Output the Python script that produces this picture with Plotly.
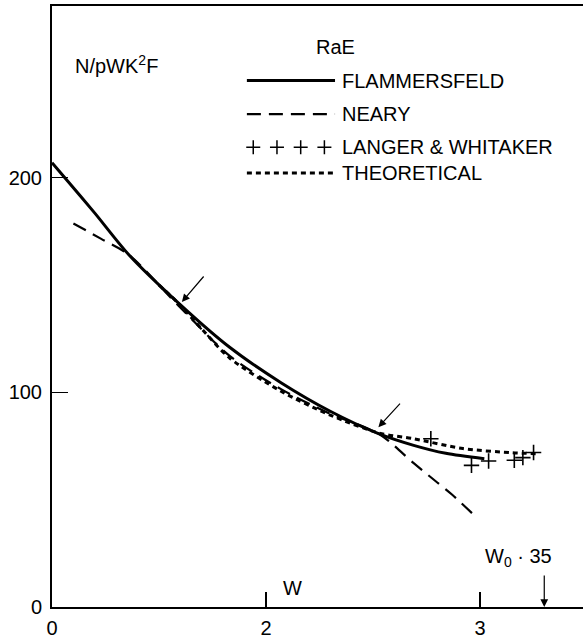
import plotly.graph_objects as go

# RaE beta spectrum: N / pWK^2F against total energy W
flam_w = [1.00, 1.06, 1.20, 1.36, 1.59, 1.83, 2.07, 2.30, 2.52, 2.69, 2.84, 3.02]
flam_v = [207, 200, 183.5, 164, 141.7, 121, 104.5, 91.2, 81, 75.3, 71.6, 69.1]

neary_w = [1.10, 1.23, 1.36, 1.59, 1.83, 2.07, 2.30, 2.53, 2.69, 2.80, 2.87, 2.97]
neary_v = [178.7, 171.5, 164, 140.5, 117, 101.5, 90, 80.5, 67, 58, 52.3, 43]

theo_w = [1.50, 1.59, 1.70, 1.83, 2.07, 2.30, 2.53, 2.69, 2.92, 3.15, 3.27]
theo_v = [150, 141.5, 129.5, 116, 100.5, 89.4, 81, 78.4, 73.8, 71.9, 71.4]

lw_w = [2.77, 2.96, 3.04, 3.16, 3.20, 3.25]
lw_v = [78.4, 66, 68, 68.4, 69.6, 72]

x_ticks = [1, 2, 3]
x_ticktext = ["0", "2", "3"]
y_ticks = [0, 100, 200]
w0 = 3.30

legend_rows = ["FLAMMERSFELD", "NEARY", "LANGER & WHITAKER", "THEORETICAL"]

FONT = "Liberation Sans, Arial, Helvetica, sans-serif"
INK = "black"
FS = 20

fig = go.Figure()

fig.add_trace(go.Scatter(x=flam_w, y=flam_v, mode="lines",
                         line=dict(color=INK, width=3, shape="spline", smoothing=0.8)))
fig.add_trace(go.Scatter(x=neary_w, y=neary_v, mode="lines",
                         line=dict(color=INK, width=2.2, dash="14px,8px", shape="spline", smoothing=0.8)))
fig.add_trace(go.Scatter(x=theo_w, y=theo_v, mode="lines",
                         line=dict(color=INK, width=3, dash="5px,4px", shape="spline", smoothing=0.8)))
fig.add_trace(go.Scatter(x=lw_w, y=lw_v, mode="markers",
                         marker=dict(symbol="cross-thin", size=11, line=dict(color=INK, width=1.6))))

# legend keys drawn on an overlay canvas in plot-fraction units
key_x0, key_x1 = 0.367, 0.533
row_y = [0.876, 0.820, 0.765, 0.722]
legend_styles = [
    dict(color=INK, width=3),
    dict(color=INK, width=2.2, dash="14px,8px"),
    None,
    dict(color=INK, width=3, dash="5px,4px"),
]
for yy, style in zip(row_y, legend_styles):
    if style is None:
        n = 4
        x_first, x_last = key_x0 + 0.012, key_x1 - 0.02
        xs = [x_first + i * (x_last - x_first) / (n - 1) for i in range(n)]
        fig.add_trace(go.Scatter(x=xs, y=[yy] * n, mode="markers", xaxis="x2", yaxis="y3",
                                 marker=dict(symbol="cross-thin", size=10, line=dict(color=INK, width=1.5))))
    else:
        fig.add_trace(go.Scatter(x=[key_x0, key_x1], y=[yy, yy], mode="lines", xaxis="x2", yaxis="y3", line=style))

annotations = []
for yy, label in zip(row_y, legend_rows):
    annotations.append(dict(x=0.543, y=yy, xref="paper", yref="paper", text=label, showarrow=False,
                            xanchor="left", yanchor="middle", font=dict(size=FS)))
annotations += [
    dict(x=0.533, y=0.932, xref="paper", yref="paper", text="RaE", showarrow=False,
         xanchor="center", yanchor="middle", font=dict(size=FS)),
    dict(x=0.0395, y=0.902, xref="paper", yref="paper", text="N/pWK<sup>2</sup>F", showarrow=False,
         xanchor="left", yanchor="middle", font=dict(size=FS)),
    dict(x=0.452, y=0.031, xref="paper", yref="paper", text="W", showarrow=False,
         xanchor="center", yanchor="middle", font=dict(size=FS)),
    dict(x=3.18, y=0.083, xref="x", yref="paper", text="W<sub>0</sub> · 35", showarrow=False,
         xanchor="center", yanchor="middle", font=dict(size=FS)),
    # arrows marking points on the curves
    dict(x=1.607, y=142.1, xref="x", yref="y", text="", showarrow=True, ax=23, ay=-27,
         arrowhead=2, arrowsize=1.3, arrowwidth=1.2, arrowcolor=INK),
    dict(x=2.525, y=83.8, xref="x", yref="y", text="", showarrow=True, ax=23, ay=-25,
         arrowhead=2, arrowsize=1.3, arrowwidth=1.2, arrowcolor=INK),
    # end-point W0
    dict(x=w0, y=0, xref="x", yref="y", text="", showarrow=True, ax=0, ay=-33,
         arrowhead=2, arrowsize=1.3, arrowwidth=1.2, arrowcolor=INK),
]

fig.update_layout(
    width=583, height=639,
    margin=dict(l=52, r=0, t=6, b=28),
    paper_bgcolor="white", plot_bgcolor="white",
    showlegend=False,
    font=dict(family=FONT, size=FS, color=INK),
    annotations=annotations,
    xaxis=dict(range=[1, 3.481], tickvals=x_ticks, ticktext=x_ticktext, ticks="inside", ticklen=15,
               tickwidth=1.5, tickcolor=INK, showline=True, linewidth=2, linecolor=INK, mirror=True,
               showgrid=False, zeroline=False, ticklabelstandoff=2),
    yaxis=dict(range=[0, 280], tickvals=y_ticks, ticks="inside", ticklen=16, tickwidth=1.2,
               tickcolor=INK, showline=True, linewidth=2, linecolor=INK, showgrid=False,
               zeroline=False, ticklabelstandoff=4),
    yaxis2=dict(range=[0, 280], overlaying="y", side="right", tickvals=y_ticks[1:], ticks="inside",
                ticklen=13, tickwidth=1.2, tickcolor=INK, showticklabels=False, showline=False,
                showgrid=False, zeroline=False),
    xaxis2=dict(range=[0, 1], overlaying="x", visible=False),
    yaxis3=dict(range=[0, 1], overlaying="y", visible=False),
)

fig.write_html("out.html")
